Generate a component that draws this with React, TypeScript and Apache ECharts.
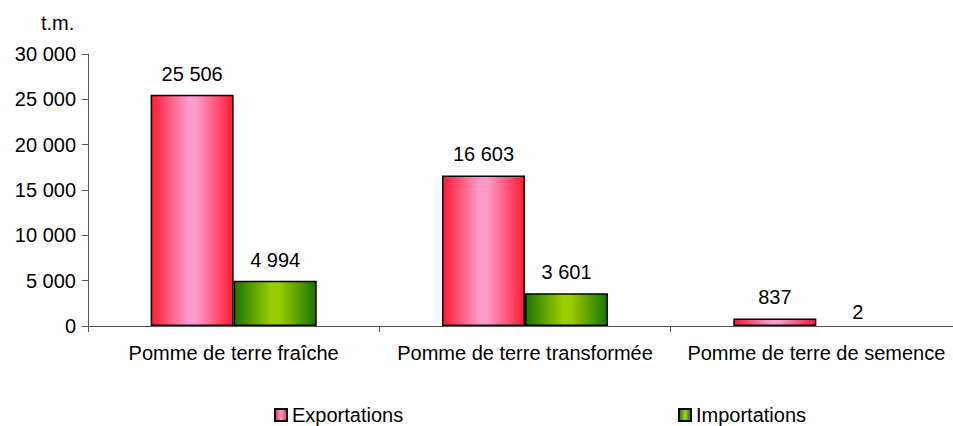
import React, { useEffect, useRef } from "react";
import * as echarts from "echarts";

const categories = ["Pomme de terre fraîche", "Pomme de terre transformée", "Pomme de terre de semence"];
const exportations = [25506, 16603, 837];
const importations = [4994, 3601, 2];
const seriesNames = ["Exportations", "Importations"];
const unitLabel = "t.m.";

const fmt = (v: number) => String(Math.round(v)).replace(/\B(?=(\d{3})+(?!\d))/g, " ");

const redGrad = new echarts.graphic.LinearGradient(0, 0, 1, 0, [
  { offset: 0, color: "#ff1a35" },
  { offset: 0.45, color: "#ff9acb" },
  { offset: 0.55, color: "#ff9acb" },
  { offset: 1, color: "#ff1a35" },
]);
const greenGrad = new echarts.graphic.LinearGradient(0, 0, 1, 0, [
  { offset: 0, color: "#1c7500" },
  { offset: 0.45, color: "#9acc00" },
  { offset: 0.55, color: "#9acc00" },
  { offset: 1, color: "#1c7500" },
]);

export default function App() {
  const ref = useRef<HTMLDivElement>(null);
  useEffect(() => {
    if (!ref.current) return;
    const chart = echarts.init(ref.current, null, { renderer: "svg" });
    const font = "Liberation Sans, Arial, sans-serif";
    const toItems = (arr: number[]) =>
      arr.map((v) =>
        v < 50
          ? { value: v, itemStyle: { borderWidth: 0, color: "rgba(0,0,0,0)" }, label: { distance: 4 } }
          : v
      );
    const labelCfg = {
      show: true,
      position: "top",
      distance: 11,
      fontSize: 20,
      color: "#000",
      fontFamily: font,
      formatter: (p: any) => fmt(p.value),
    };
    chart.setOption({
      animation: false,
      textStyle: { fontFamily: font },
      grid: { left: 88, top: 54, bottom: 100, width: 874, containLabel: false, outerBoundsMode: "none" },
      graphic: [
        { type: "text", left: 41, top: 13, style: { text: unitLabel, fontSize: 20, fontFamily: font, fill: "#000" } },
      ],
      legend: [
        {
          data: [{ name: seriesNames[0], itemStyle: { color: redGrad, borderColor: "#000", borderWidth: 2 } }],
          left: 274, top: 405, padding: 0, itemWidth: 12, itemHeight: 12, icon: "rect",
          textStyle: { fontSize: 20, color: "#000", fontFamily: font },
        },
        {
          data: [{ name: seriesNames[1], itemStyle: { color: greenGrad, borderColor: "#000", borderWidth: 2 } }],
          left: 678, top: 405, padding: 0, itemWidth: 12, itemHeight: 12, icon: "rect",
          textStyle: { fontSize: 20, color: "#000", fontFamily: font },
        },
      ],
      xAxis: {
        type: "category",
        data: categories,
        axisLine: { lineStyle: { color: "#555", width: 1 } },
        axisTick: { show: true, alignWithLabel: false, length: 6, lineStyle: { color: "#555" } },
        axisLabel: { fontSize: 20, color: "#000", margin: 17, interval: 0, fontFamily: font },
      },
      yAxis: {
        type: "value",
        min: 0,
        max: 30000,
        interval: 5000,
        splitLine: { show: false },
        axisLine: { show: true, lineStyle: { color: "#555", width: 1 } },
        axisTick: { show: true, length: 6, lineStyle: { color: "#555" } },
        axisLabel: { fontSize: 20, color: "#000", margin: 12, formatter: (v: number) => fmt(v), fontFamily: font },
      },
      series: [
        {
          name: seriesNames[0],
          type: "bar",
          data: toItems(exportations),
          barGap: "0%",
          barCategoryGap: "43%",
          itemStyle: { color: redGrad, borderColor: "#000", borderWidth: 1.5 },
          label: labelCfg,
        },
        {
          name: seriesNames[1],
          type: "bar",
          data: toItems(importations),
          itemStyle: { color: greenGrad, borderColor: "#000", borderWidth: 1.5 },
          label: labelCfg,
        },
      ],
    });
    return () => chart.dispose();
  }, []);
  return <div ref={ref} style={{ width: 953, height: 426, position: "absolute", left: 0, top: 0 }} />;
}
